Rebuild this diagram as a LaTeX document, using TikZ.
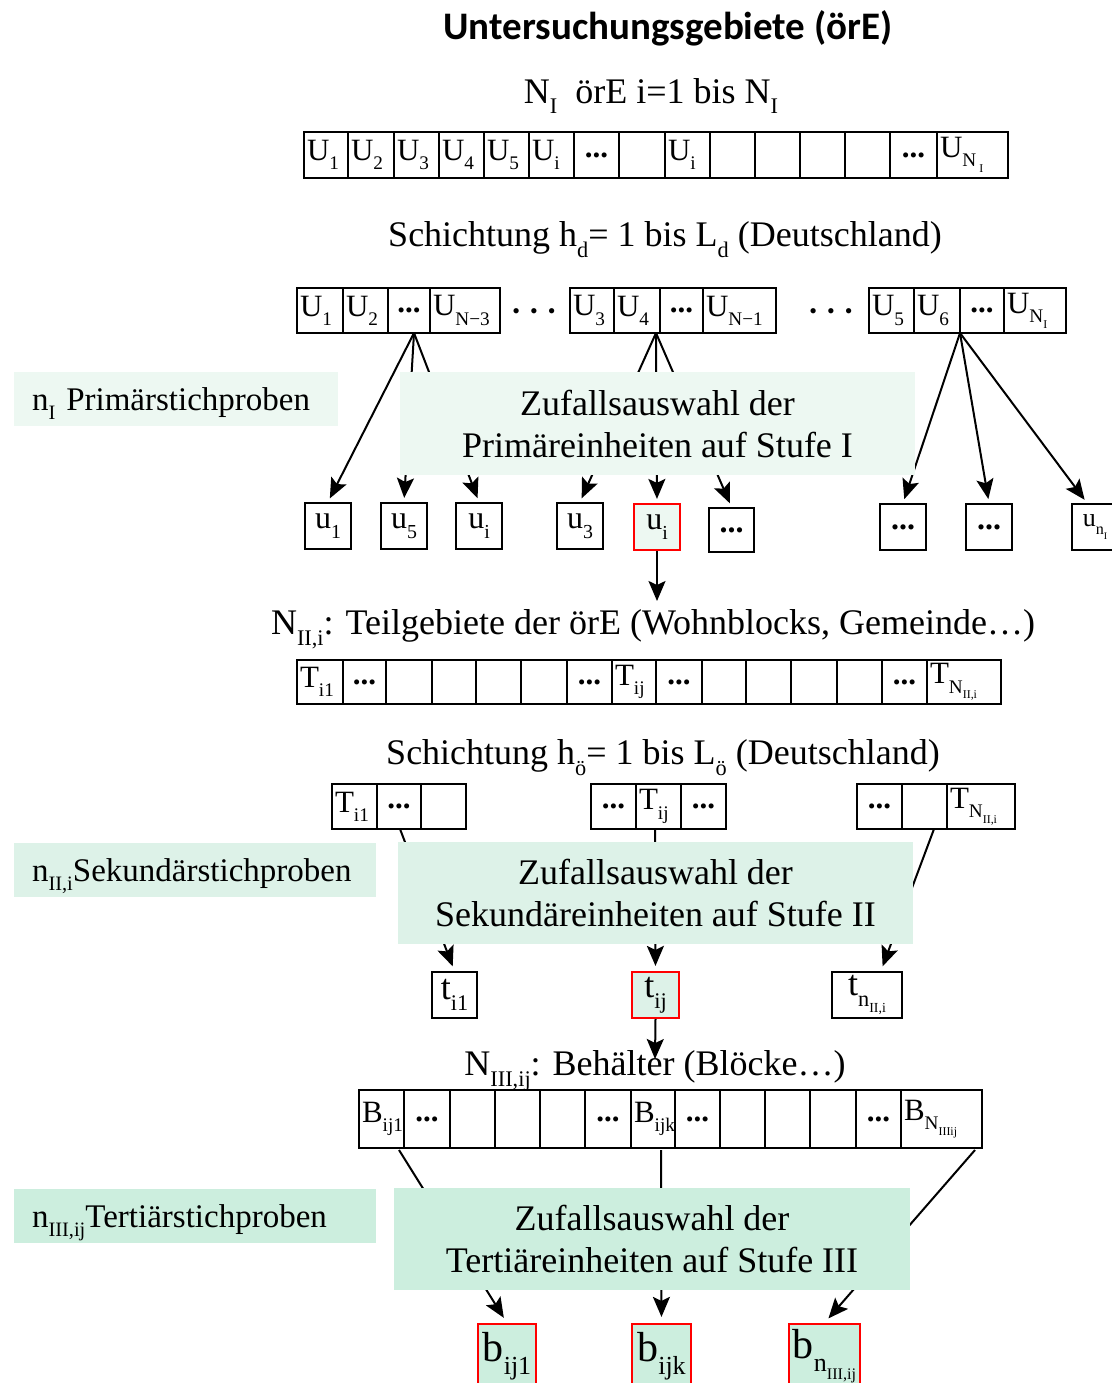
\documentclass[tikz,border=0pt]{standalone}
\usepackage{fontspec}
\setmainfont{Liberation Serif}
\newfontfamily\titlefont{Carlito}
\usepackage{graphicx}
\usetikzlibrary{arrows.meta}
\definecolor{cA}{HTML}{EDF8F2}
\definecolor{cB}{HTML}{DDF2E8}
\definecolor{cC}{HTML}{CCEEDE}
\newcommand\sbs[1]{\raisebox{-0.3em}{\scalebox{0.62}{#1}}}
\newcommand\cdd{\makebox[\hsize][c]{\textbf{...}}}
\newcommand\cellrow[4]{%
  \foreach \xl/\xr/\lab [count=\k] in {#4}{%
    \pgfmathsetmacro\cw{\xr-\xl-6}%
    \node[cellbox, text width=\cw pt, minimum height={(#3-#2)*1pt}] (#1\k) at ({(\xl+\xr)/2},{(#2+#3)/2}) {\lab};
  }}
\begin{document}
\begin{tikzpicture}[x=1pt,y=-1pt,
  cellbox/.style={draw, line width=2pt, inner xsep=3pt, inner ysep=0pt, align=left, font=\fontsize{31}{34}\selectfont},
  ubox/.style={draw, line width=2pt, inner sep=0pt, font=\fontsize{32}{36}\selectfont},
  redbox/.style={ubox, draw=red, line width=2.2pt},
  zbox/.style={inner sep=0pt, align=center, font=\fontsize{36}{42}\selectfont},
  lbox/.style={inner xsep=18pt, inner ysep=0pt, align=left, minimum height=54pt, text height=27pt, text depth=4pt, font=\fontsize{33}{38}\selectfont},
  head/.style={inner sep=0pt, font=\fontsize{36}{42}\selectfont},
  arr/.style={line width=2pt, -{Stealth[length=20pt,width=17pt,inset=4pt]}},
  ln/.style={line width=2pt}
]
\useasboundingbox (0,0) rectangle (1111,1383);

% headings
\node[inner sep=0pt, font=\titlefont\bfseries\fontsize{39}{44}\selectfont] (title) at (668,28) {Untersuchungsgebiete (örE)};
\node[head] (h1) at (651,96) {N\sbs{I}\ \ örE i=1 bis N\sbs{I}};
\node[head] (h2) at (665,240) {Schichtung h\sbs{d}= 1 bis L\sbs{d} (Deutschland)};
\node[head] (h3) at (653,629) {N\sbs{II,i}: Teilgebiete der örE (Wohnblocks, Gemeinde…)};
\node[head] (h4) at (663,758) {Schichtung h\sbs{ö}= 1 bis L\sbs{ö} (Deutschland)};
\node[head] (h5) at (655,1071) {N\sbs{III,ij}: Behälter (Blöcke…)};

% row 1
\cellrow{ra}{132}{178}{304/348/{U\sbs{1}},348/394/{U\sbs{2}},394/439/{U\sbs{3}},439/484/{U\sbs{4}},484/529/{U\sbs{5}},529/574/{U\sbs{i}},574/619/{\cdd},619/665/{},665/710/{U\sbs{i}},710/755/{},755/800/{},800/845/{},845/890/{},890/937/{\cdd},937/1008/{U\sbs{N\,\sbs{I}}}}

% row 2
\cellrow{rb}{288}{333}{297/343/{U\sbs{1}},343/388/{U\sbs{2}},388/430/{\cdd},430/500/{U\sbs{N−3}}}
\cellrow{rc}{288}{333}{570/614/{U\sbs{3}},614/660/{U\sbs{4}},660/703/{\cdd},703/776/{U\sbs{N−1}}}
\cellrow{rd}{288}{333}{869/914/{U\sbs{5}},914/960/{U\sbs{6}},960/1004/{\cdd},1004/1066/{U\sbs{N\sbs{I}}}}
\node[inner sep=0pt, font=\fontsize{22}{24}\selectfont] (dotsA) at (534,314) {•\hspace{10pt}•\hspace{10pt}•};
\node[inner sep=0pt, font=\fontsize{22}{24}\selectfont] (dotsB) at (831,314) {•\hspace{10pt}•\hspace{10pt}•};

% row 3
\cellrow{re}{660}{704}{297/343/{T\sbs{i1}},343/386/{\cdd},386/432/{},432/476/{},476/521/{},521/567/{},567/612/{\cdd},612/656/{T\sbs{ij}},656/702/{\cdd},702/746/{},746/791/{},791/837/{},837/882/{},882/927/{\cdd},927/1001/{T\sbs{N\sbs{II,i}}}}

% row 4
\cellrow{rf}{784}{829}{332/377/{T\sbs{i1}},377/421/{\cdd},421/466/{}}
\cellrow{rg}{784}{829}{591/636/{\cdd},636/681/{T\sbs{ij}},681/726/{\cdd}}
\cellrow{rh}{784}{829}{857/902/{\cdd},902/947/{},947/1015/{T\sbs{N\sbs{II,i}}}}

% row 5
\cellrow{ri}{1090}{1148}{359/404/{B\sbs{ij1}},404/450/{\cdd},450/495/{},495/540/{},540/585/{},585/631/{\cdd},631/675/{B\sbs{ijk}},675/720/{\cdd},720/765/{},765/810/{},810/856/{},856/901/{\cdd},901/982/{B\sbs{N\sbs{IIIij}}}}

% u boxes
\node[ubox, minimum width=46pt, minimum height=46pt] (u1) at (328,526) {u\sbs{1}};
\node[ubox, minimum width=46pt, minimum height=46pt] (u5) at (404,526) {u\sbs{5}};
\node[ubox, minimum width=46pt, minimum height=46pt] (ui) at (479,526) {u\sbs{i}};
\node[ubox, minimum width=46pt, minimum height=46pt] (u3) at (580,526) {u\sbs{3}};
\node[redbox, fill=cA, minimum width=46pt, minimum height=46pt] (ur) at (657,527) {u\sbs{i}};
\node[ubox, minimum width=45pt, minimum height=44pt] (ud1) at (731.5,530) {\textbf{...}};
\node[ubox, minimum width=46pt, minimum height=46pt] (ud2) at (903,527) {\textbf{...}};
\node[ubox, minimum width=46pt, minimum height=46pt] (ud3) at (989,527) {\textbf{...}};
\node[ubox, minimum width=46pt, minimum height=46pt, font=\fontsize{26}{30}\selectfont] (un) at (1095,527) {u\sbs{n\sbs{I}}};

% t boxes
\node[ubox, minimum width=45pt, minimum height=46pt, font=\fontsize{36}{40}\selectfont] (t1) at (454.5,995) {t\sbs{i1}};
\node[redbox, fill=cB, minimum width=47pt, minimum height=46pt, font=\fontsize{36}{40}\selectfont] (tj) at (655.5,995) {t\sbs{ij}};
\node[ubox, minimum width=70pt, minimum height=46pt, font=\fontsize{36}{40}\selectfont] (tn) at (867,995) {t\sbs{n\sbs{II,i}}\hspace{14pt}};

% b boxes
\node[redbox, fill=cC, minimum width=58pt, minimum height=64pt, font=\fontsize{42}{46}\selectfont] (b1) at (507,1356) {b\sbs{ij1}};
\node[redbox, fill=cC, minimum width=59pt, minimum height=64pt, font=\fontsize{42}{46}\selectfont] (bk) at (661.5,1356) {b\sbs{ijk}};
\node[redbox, fill=cC, minimum width=71pt, minimum height=64pt, font=\fontsize{42}{46}\selectfont] (bn) at (824.5,1356) {b\sbs{n\sbs{III,ij}}};

% apex points and free ends
\coordinate (pa) at (414,333);
\coordinate (pb) at (656,333);
\coordinate (pc) at (960,333);
\coordinate (pd) at (400,829);
\coordinate (pe) at (655,829);
\coordinate (pf) at (934,829);
\coordinate (pg) at (399,1150);
\coordinate (ph) at (661,1150);
\coordinate (pi) at (975,1150);
\coordinate (ea) at (657,601);
\coordinate (eb) at (655,1059);
\coordinate (ec) at (1087,503);

% connectors
\draw[arr, shorten >=4pt] (pa) -- (u1.north);
\draw[arr, shorten >=4pt] (pa) -- (u5.north);
\draw[arr, shorten >=4pt] (pa) -- (ui.north);
\draw[arr, shorten >=4pt] (pb) -- (u3.north);
\draw[arr, shorten >=4pt] (pb) -- (ur.north);
\draw[arr, shorten >=4pt] (pb) -- (ud1.north);
\draw[arr, shorten >=4pt] (pc) -- (ud2.north);
\draw[arr, shorten >=4pt] (pc) -- (ud3.north);
\draw[arr, shorten >=4pt] (pc) -- (ec);
\draw[arr] (ur.south) -- (ea);
\draw[arr, shorten >=5pt] (pd) -- (t1.north);
\draw[arr, shorten >=5pt] (pe) -- (tj.north);
\draw[arr, shorten >=5pt] (pf) -- (tn.60);
\draw[arr] (tj.south) -- (eb);
\draw[arr, shorten >=6pt] (pg) -- (b1.north);
\draw[arr, shorten >=6pt] (ph) -- (bk.north);
\draw[arr, shorten >=6pt] (pi) -- (bn.north);

% green boxes (on top of connectors)
\node[zbox, fill=cA, minimum width=515pt, minimum height=103pt] (z1) at (657.5,423.5) {Zufallsauswahl der\\Primäreinheiten auf Stufe I};
\node[zbox, fill=cB, minimum width=515pt, minimum height=102pt] (z2) at (655.5,893) {Zufallsauswahl der\\Sekundäreinheiten auf Stufe II};
\node[zbox, fill=cC, minimum width=516pt, minimum height=102pt] (z3) at (652,1239) {Zufallsauswahl der\\Tertiäreinheiten auf Stufe III};

\node[lbox, fill=cA, text width=288pt] (l1) at (176,398.5) {n\sbs{I} Primärstichproben};
\node[lbox, fill=cB, text width=326pt] (l2) at (195,869.5) {n\sbs{II,i}Sekundärstichproben};
\node[lbox, fill=cC, text width=326pt] (l3) at (195,1215.5) {n\sbs{III,ij}Tertiärstichproben};
\end{tikzpicture}
\end{document}
